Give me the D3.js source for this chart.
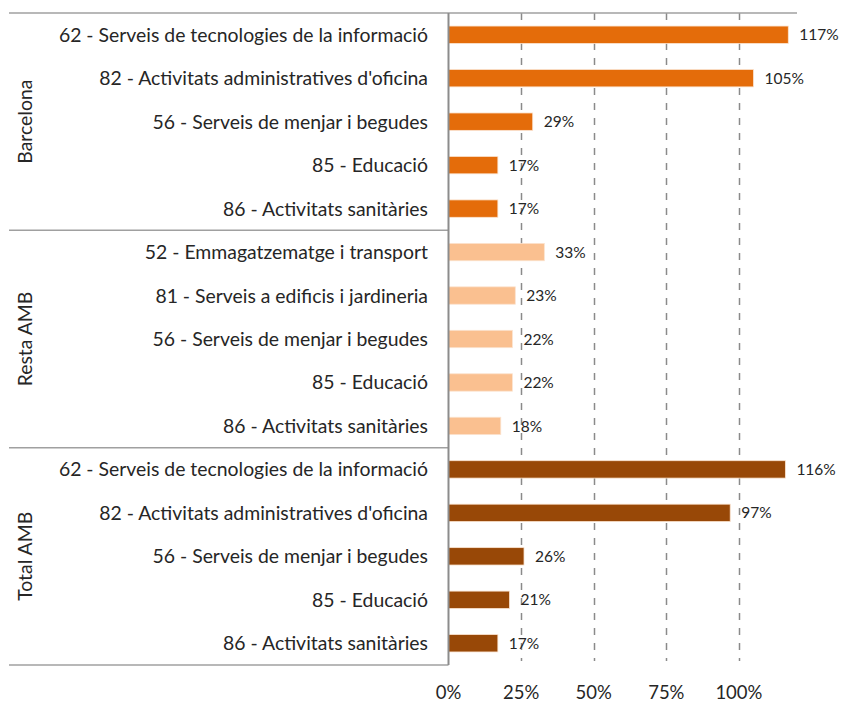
<!DOCTYPE html>
<html>
<head>
<meta charset="utf-8">
<script src="https://cdn.jsdelivr.net/npm/d3@7"></script>
<style>
  body { margin: 0; background: #fff; }
  text { font-family: Lato, "Open Sans", sans-serif; fill: #262626; }
</style>
</head>
<body>
<div id="chart"></div>
<script>
var groups = ["Barcelona", "Resta AMB", "Total AMB"];
var groupColors = ["#E46C0A", "#FAC090", "#984807"];

var barcelonaCats = ["62 - Serveis de tecnologies de la informació", "82 - Activitats administratives d'oficina", "56 - Serveis de menjar i begudes", "85 - Educació", "86 - Activitats sanitàries"];
var barcelonaVals = [1.17, 1.05, 0.29, 0.17, 0.17];

var restaCats = ["52 - Emmagatzematge i transport", "81 - Serveis a edificis i jardineria", "56 - Serveis de menjar i begudes", "85 - Educació", "86 - Activitats sanitàries"];
var restaVals = [0.33, 0.23, 0.22, 0.22, 0.18];

var totalCats = ["62 - Serveis de tecnologies de la informació", "82 - Activitats administratives d'oficina", "56 - Serveis de menjar i begudes", "85 - Educació", "86 - Activitats sanitàries"];
var totalVals = [1.16, 0.97, 0.26, 0.21, 0.17];

var xTicks = [0, 0.25, 0.5, 0.75, 1.0];

// flatten into rows
var rows = [];
[[barcelonaCats, barcelonaVals], [restaCats, restaVals], [totalCats, totalVals]].forEach(function(g, gi) {
	g[0].forEach(function(c, i) {
		rows.push({id: gi + "-" + i, group: gi, cat: c, val: g[1][i]});
	});
});

var width = 842, height = 702;
var plotLeft = 448.5, plotRight = 797, plotTop = 13, plotBottom = 665;

var svg = d3.select("#chart").append("svg")
	.attr("width", width)
	.attr("height", height);

var x = d3.scaleLinear().domain([0, 1.2]).range([plotLeft, plotRight]);
var y = d3.scaleBand()
	.domain(rows.map(d => d.id))
	.range([plotTop, plotBottom])
	.paddingInner(0.6)
	.paddingOuter(0.3);

var fmt = d3.format(".0%");

// dashed gridlines
svg.append("g")
	.attr("class", "grid")
	.selectAll("line")
	.data(xTicks.filter(t => t > 0))
	.enter()
	.append("line")
	.attr("x1", d => Math.round(x(d)) + 0.5)
	.attr("x2", d => Math.round(x(d)) + 0.5)
	.attr("y1", plotTop)
	.attr("y2", plotBottom - 4)
	.attr("stroke", "#8a8a8a")
	.attr("stroke-width", 1.5)
	.attr("stroke-dasharray", "7,8");

// top border across the plot
svg.append("line")
	.attr("x1", 9).attr("x2", plotRight)
	.attr("y1", plotTop).attr("y2", plotTop)
	.attr("stroke", "#a0a0a0").attr("stroke-width", 1.5);

// group separators
var bounds = [1, 2, 3].map(function(k) {
	var lastId = rows.filter(r => r.group == k - 1).slice(-1)[0].id;
	return k == 3 ? plotBottom : y(lastId) + y.bandwidth() + y.step() * 0.3;
});
svg.append("g")
	.selectAll("line")
	.data(bounds)
	.enter()
	.append("line")
	.attr("x1", 9).attr("x2", plotLeft)
	.attr("y1", d => d).attr("y2", d => d)
	.attr("stroke", "#a0a0a0").attr("stroke-width", 1.5);

// bars
svg.append("g")
	.selectAll("rect")
	.data(rows)
	.enter()
	.append("rect")
	.attr("x", x(0))
	.attr("y", d => y(d.id))
	.attr("width", d => x(d.val) - x(0))
	.attr("height", y.bandwidth())
	.attr("fill", d => groupColors[d.group])
	.attr("stroke", "#fbe3cf")
	.attr("stroke-width", 0.8);

// vertical axis line
svg.append("line")
	.attr("x1", plotLeft).attr("x2", plotLeft)
	.attr("y1", plotTop).attr("y2", plotBottom)
	.attr("stroke", "#8c8c8c").attr("stroke-width", 2);

// value labels
svg.append("g")
	.selectAll("text")
	.data(rows)
	.enter()
	.append("text")
	.attr("x", d => x(d.val) + 11)
	.attr("y", d => y(d.id) + y.bandwidth() / 2)
	.attr("dy", "0.36em")
	.style("font-size", "15.5px")
	.text(d => fmt(d.val));

// category labels
svg.append("g")
	.selectAll("text")
	.data(rows)
	.enter()
	.append("text")
	.attr("x", 428)
	.attr("y", d => y(d.id) + y.bandwidth() / 2)
	.attr("dy", "0.36em")
	.attr("text-anchor", "end")
	.style("font-size", "19.4px")
	.text(d => d.cat);

// group labels, rotated
var groupTops = [plotTop].concat(bounds.slice(0, 2));
svg.append("g")
	.selectAll("text")
	.data(groups)
	.enter()
	.append("text")
	.attr("transform", (d, i) => "translate(25," + ((groupTops[i] + bounds[i]) / 2) + ") rotate(-90)")
	.attr("dy", "0.36em")
	.attr("text-anchor", "middle")
	.style("font-size", "19.4px")
	.text(d => d);

// x axis tick labels
svg.append("g")
	.selectAll("text")
	.data(xTicks)
	.enter()
	.append("text")
	.attr("x", d => x(d))
	.attr("y", 692)
	.attr("dy", "0.36em")
	.attr("text-anchor", "middle")
	.style("font-size", "18.5px")
	.text(d => fmt(d));
</script>
</body>
</html>
